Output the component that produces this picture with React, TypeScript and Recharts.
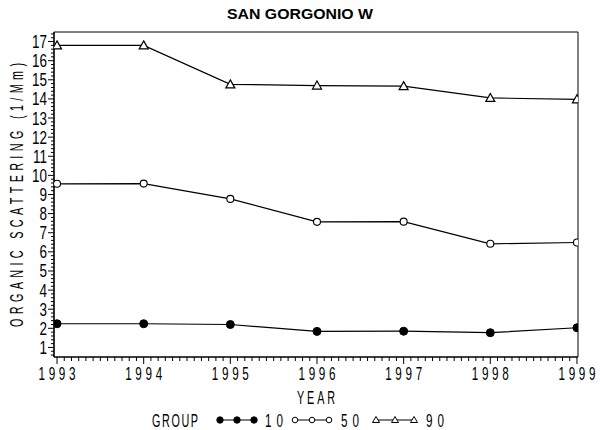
import React from 'react';
import { LineChart, Line, XAxis, YAxis, Label, Legend, ReferenceArea } from 'recharts';

const YEARS = [1993, 1994, 1995, 1996, 1997, 1998, 1999];
const GROUP_10 = [2.24, 2.24, 2.2, 1.84, 1.85, 1.77, 2.03];
const GROUP_50 = [9.56, 9.57, 8.77, 7.57, 7.58, 6.42, 6.49];
const GROUP_90 = [16.8, 16.8, 14.76, 14.7, 14.67, 14.05, 13.98];
const Y_MAJOR = [1, 2, 3, 4, 5, 6, 7, 8, 9, 10, 11, 12, 13, 14, 15, 16, 17];
const TITLE = 'SAN GORGONIO W';
const X_TITLE = 'YEAR';
const Y_TITLE = 'ORGANIC SCATTERING (1/Mm)';
const LEGEND_TITLE = 'GROUP';
const SERIES = [
  { key: 'g10', name: '10', marker: 'dot' },
  { key: 'g50', name: '50', marker: 'circle' },
  { key: 'g90', name: '90', marker: 'triangle' },
];

const data = YEARS.map((year, i) => ({
  year,
  g10: GROUP_10[i],
  g50: GROUP_50[i],
  g90: GROUP_90[i],
}));

// minor ticks: monthly on x, 0.2 steps on y
const xTicks: number[] = [];
for (let i = 0; i < YEARS.length - 1; i++) {
  for (let m = 0; m < 12; m++) xTicks.push(YEARS[i] + m / 12);
}
xTicks.push(YEARS[YEARS.length - 1]);
const yTicks: number[] = [];
for (let k = 3; k <= 87; k++) yTicks.push(Math.round(k * 2) / 10);

const FONT = "'Liberation Sans', Arial, sans-serif";
const SX_DIGIT = 0.75;
const SX_XTICK = 0.65;
const SX_LETTER = 0.6;

const isMajor = (v: number) => Math.abs(v - Math.round(v)) < 1e-6;

const NText = (p: {
  x: number;
  y: number;
  text: string;
  size?: number;
  length?: number;
  sx?: number;
  anchor?: 'start' | 'middle' | 'end';
  rotate?: number;
}) => {
  const size = p.size ?? 18;
  const sx = p.sx ?? SX_DIGIT;
  const anchor = p.anchor ?? 'middle';
  const common = {
    transform: `translate(${p.x},${p.y}) rotate(${p.rotate ?? 0}) scale(${sx},1)`,
    fontFamily: FONT,
    fontSize: size,
    fill: '#000',
  };
  if (p.length) {
    const L = p.length / sx;
    const start = anchor === 'middle' ? -L / 2 : anchor === 'end' ? -L : 0;
    return (
      <text {...common} x={start} y={0} textAnchor="start" textLength={L} lengthAdjust="spacing">
        {p.text}
      </text>
    );
  }
  return (
    <text {...common} x={0} y={0} textAnchor={anchor}>
      {p.text}
    </text>
  );
};

const XTick = (props: any) => {
  const { x, y, payload } = props;
  const v = payload.value;
  const major = isMajor(v);
  return (
    <g>
      <line x1={x} x2={x} y1={y} y2={y + (major ? 7 : 4)} stroke="#000" strokeWidth={1} />
      {major && <NText x={x} y={y + 23} text={String(Math.round(v))} length={37} sx={SX_XTICK} />}
    </g>
  );
};

const YTick = (props: any) => {
  const { x, y, payload } = props;
  const v = payload.value;
  const major = isMajor(v) && Y_MAJOR.includes(Math.round(v));
  return (
    <g>
      <line x1={x} x2={x - (major ? 6 : 3)} y1={y} y2={y} stroke="#000" strokeWidth={1} />
      {major && <NText x={x - 7} y={y + 6.5} text={String(Math.round(v))} anchor="end" />}
    </g>
  );
};

const Triangle = (props: any) => {
  const { cx, cy, index } = props;
  if (cx == null || cy == null) return <g key={`t${index}`} />;
  return (
    <path
      key={`t${index}`}
      d={`M${cx},${cy - 4.5} L${cx + 4.5},${cy + 3.5} L${cx - 4.5},${cy + 3.5} Z`}
      fill="#fff"
      stroke="#000"
      strokeWidth={1.2}
    />
  );
};

const markerSvg = (marker: string, cx: number, cy: number, k: string) => {
  if (marker === 'dot') return <circle key={k} cx={cx} cy={cy} r={3.2} fill="#000" stroke="#000" />;
  if (marker === 'circle') return <circle key={k} cx={cx} cy={cy} r={2.8} fill="#fff" stroke="#000" strokeWidth={1} />;
  return (
    <path
      key={k}
      d={`M${cx},${cy - 3.5} L${cx + 3.5},${cy + 2.5} L${cx - 3.5},${cy + 2.5} Z`}
      fill="#fff"
      stroke="#000"
      strokeWidth={1}
    />
  );
};

const LEGEND_MARKERS = [
  [220, 237, 254],
  [295, 312, 329],
  [376, 395, 414],
];
const LEGEND_LABEL_X = [265, 341, 426];

const renderLegend = () => (
  <svg width={600} height={430} style={{ display: 'block' }}>
    <NText x={152} y={427} text={LEGEND_TITLE} anchor="start" length={46} sx={SX_LETTER} />
    {SERIES.map((s, i) => (
      <g key={s.key}>
        <line
          x1={LEGEND_MARKERS[i][0]}
          x2={LEGEND_MARKERS[i][2]}
          y1={420}
          y2={420}
          stroke="#000"
          strokeWidth={1.2}
        />
        {LEGEND_MARKERS[i].map((cx, j) => markerSvg(s.marker, cx, 420, `${s.key}${j}`))}
        <NText x={LEGEND_LABEL_X[i]} y={427} text={s.name} anchor="start" length={18} sx={SX_XTICK} />
      </g>
    ))}
  </svg>
);

export default function App() {
  return (
    <div style={{ position: 'absolute', left: 0, top: 0, width: 600, height: 430, background: '#fff' }}>
      <svg width={600} height={30} style={{ position: 'absolute', left: 0, top: 0 }}>
        <text
          x={227}
          y={19}
          textAnchor="start"
          fontFamily={FONT}
          fontWeight="bold"
          fontSize={15}
          textLength={146}
          lengthAdjust="spacingAndGlyphs"
          fill="#000"
        >
          {TITLE}
        </text>
      </svg>
      <LineChart width={600} height={430} data={data} margin={{ top: 32, right: 22, bottom: 0, left: 0 }}>
        <XAxis
          dataKey="year"
          type="number"
          domain={[1992.965, 1999.012]}
          ticks={xTicks}
          interval={0}
          tick={<XTick />}
          tickLine={false}
          tickSize={0}
          tickMargin={0}
          axisLine={{ stroke: '#000', strokeWidth: 1.2 }}
          height={73}
          allowDataOverflow
        >
          <Label
            content={(p: any) => (
              <NText
                x={p.viewBox.x + p.viewBox.width / 2}
                y={p.viewBox.y + 47}
                text={X_TITLE}
                length={38}
                sx={SX_LETTER}
              />
            )}
          />
        </XAxis>
        <YAxis
          type="number"
          domain={[0.5, 17.5]}
          ticks={yTicks}
          interval={0}
          tick={<YTick />}
          tickLine={false}
          tickSize={0}
          tickMargin={0}
          axisLine={{ stroke: '#000', strokeWidth: 1.2 }}
          width={54}
          allowDataOverflow
        >
          <Label
            content={() => (
              <NText x={23} y={195} rotate={-90} text={Y_TITLE} length={264} sx={SX_LETTER} />
            )}
          />
        </YAxis>
        <ReferenceArea
          x1={1992.965}
          x2={1999.012}
          y1={0.5}
          y2={17.5}
          fill="none"
          stroke="#000"
          strokeWidth={1}
          ifOverflow="extendDomain"
        />
        <Line
          dataKey="g10"
          name="10"
          stroke="#000"
          strokeWidth={1.2}
          isAnimationActive={false}
          dot={{ r: 4, fill: '#000', stroke: '#000', strokeWidth: 1 }}
          activeDot={false}
        />
        <Line
          dataKey="g50"
          name="50"
          stroke="#000"
          strokeWidth={1.2}
          isAnimationActive={false}
          dot={{ r: 3.5, fill: '#fff', stroke: '#000', strokeWidth: 1.1 }}
          activeDot={false}
        />
        <Line
          dataKey="g90"
          name="90"
          stroke="#000"
          strokeWidth={1.2}
          isAnimationActive={false}
          dot={(p: any) => <Triangle key={`tri${p.index}`} {...p} />}
          activeDot={false}
        />
        <Legend
          content={renderLegend}
          layout="horizontal"
          verticalAlign="middle"
          align="center"
          wrapperStyle={{ position: 'absolute', left: 0, top: 0, width: 600, height: 430, pointerEvents: 'none' }}
        />
      </LineChart>
    </div>
  );
}
